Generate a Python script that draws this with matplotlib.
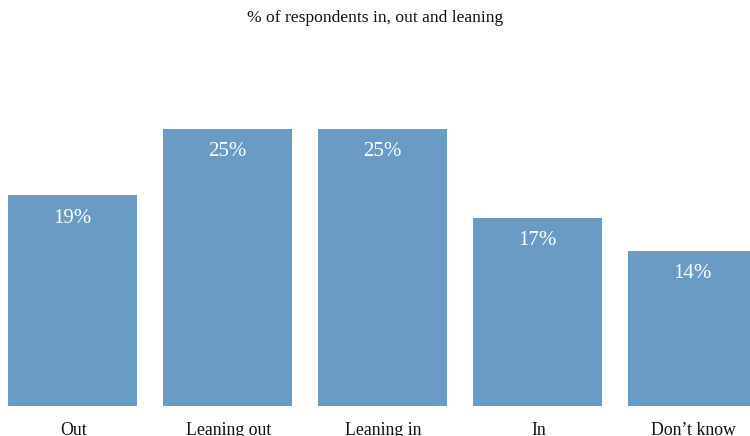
import matplotlib
matplotlib.use("Agg")
import matplotlib.pyplot as plt

categories = ["Out", "Leaning out", "Leaning in", "In", "Don\u2019t know"]
values = [19, 25, 25, 17, 14]
value_labels = ["19%", "25%", "25%", "17%", "14%"]
title = "% of respondents in, out and leaning"

W, H = 750, 436
fig = plt.figure(figsize=(W / 100, H / 100), dpi=100)
px_per_unit = 155.0
center0 = 72.5
bottom_px = 406
px_per_pct = 11.08

ax = fig.add_axes([0, (H - bottom_px) / H, 1, bottom_px / H])
ax.set_xlim(-center0 / px_per_unit, (W - center0) / px_per_unit)
ax.set_ylim(0, bottom_px / px_per_pct)
ax.axis("off")

serif = ["Liberation Serif", "DejaVu Serif"]
color = "#6a9bc5"
xs = list(range(len(categories)))
ax.bar(xs, values, width=129 / px_per_unit, color=color)

off = 23 / px_per_pct
for x, v, lab in zip(xs, values, value_labels):
    ax.text(x, v - off, lab, ha="center", va="center", color="white",
            fontsize=15, family=serif)

for x, c in zip(xs, categories):
    fig.text((center0 + 1 + x * px_per_unit) / W, 1 - 430 / H, c, ha="center",
             va="center", fontsize=12.8, family=serif, color="#111111")

fig.text(0.5, 1 - 18 / H, title, ha="center", va="center", fontsize=12.6,
         family=serif, color="#111111")

fig.savefig("out.png", dpi=100)
